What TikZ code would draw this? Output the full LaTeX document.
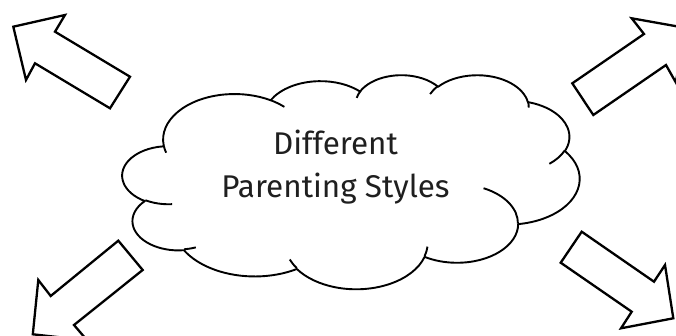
\documentclass[tikz,border=0pt]{standalone}
\usepackage{fontspec}
\setmainfont{Fira Sans}
% Office-style elliptical arc: visual start angle #3, sweep #4 (degrees)
\newcommand\ooarc[4]{arc[start angle={atan2(#1*sin(#3),#2*cos(#3))}, delta angle={Mod(atan2(#1*sin(#3+#4),#2*cos(#3+#4))-atan2(#1*sin(#3),#2*cos(#3)),360)}, x radius=#1, y radius=#2]}
\begin{document}
\begin{tikzpicture}[x=1pt,y=-1pt,
  blockarrow/.style={draw=black, fill=white, line width=2.3pt, line join=miter},
  cloudline/.style={draw=black, line width=1.9pt, line join=round},
  labeltext/.style={align=center, font=\fontsize{31.4}{43.4}\selectfont, text=black!88}]
\useasboundingbox (0,0) rectangle (676,336);
% arrows
\draw[blockarrow] (13.3,26.7) -- (65,15) -- (55,31.7) -- (130,76.7) -- (110,108.3) -- (35,63.3) -- (26,80) -- cycle;
\draw[blockarrow] (686.2,28) -- (675.8,82.4) -- (666,65) -- (593.3,115) -- (572.3,83.3) -- (644,34) -- (631.7,18.3) -- cycle;
\draw[blockarrow] (32.8,334.3) -- (38.3,280) -- (50.7,296) -- (118.3,240.7) -- (142.7,270) -- (74,325) -- (87.1,340.3) -- cycle;
\draw[blockarrow] (581.7,231.7) -- (654,281.7) -- (665,265) -- (673.3,318.3) -- (621,328.3) -- (631.7,311.7) -- (560.7,262.7) -- cycle;
% cloud
\begin{scope}[shift={(122.5,74.5)}, x=1.05787pt, y=-0.49537pt]
\draw[cloudline, fill=white] (39.00,143.70) \ooarc{67.53}{91.90}{-190.4875}{123.7805} \ooarc{53.33}{72.67}{-144.1024}{89.9452} \ooarc{43.65}{59.45}{-145.8079}{99.7230} \ooarc{48.57}{65.95}{-130.9861}{117.2417} \ooarc{53.33}{72.73}{-78.7089}{109.0269} \ooarc{67.75}{92.20}{-46.2673}{130.2690} \ooarc{57.85}{78.67}{0.6250}{114.0333} \ooarc{67.52}{92.15}{22.4516}{115.1726} \ooarc{77.20}{105.43}{66.2426}{75.7110} \ooarc{43.60}{59.18}{-274.9421}{146.7356} \ooarc{43.45}{59.45}{-246.8285}{152.5189} -- cycle;
\draw[cloudline] (46.93,261.77) \ooarc{43.45}{59.45}{86.7420}{26.4295};
\draw[cloudline] (69.28,348.99) \ooarc{43.60}{59.18}{73.6105}{11.4475};
\draw[cloudline] (164.78,390.90) \ooarc{67.52}{92.15}{137.6242}{14.0811};
\draw[cloudline] (288.27,347.51) \ooarc{67.52}{92.15}{6.4533}{15.9984};
\draw[cloudline] (341.29,229.54) \ooarc{57.85}{78.67}{-70.2924}{70.9174};
\draw[cloudline] (417.98,153.54) \ooarc{53.33}{72.73}{30.3180}{27.7515};
\draw[cloudline] (383.24,54.26) \ooarc{48.57}{65.95}{-13.7443}{14.8589};
\draw[cloudline] (290.78,39.52) \ooarc{48.57}{65.95}{-149.1815}{18.1954};
\draw[cloudline] (221.41,47.20) \ooarc{43.65}{59.45}{-163.4943}{17.6864};
\draw[cloudline] (140.00,51.92) \ooarc{67.53}{91.90}{-66.7070}{12.3194};
\draw[cloudline] (41.27,157.89) \ooarc{67.53}{91.90}{157.6544}{11.8582};
\end{scope}
\node[labeltext] (label) at (335.5,167) {Different\\Parenting Styles};
\end{tikzpicture}
\end{document}
